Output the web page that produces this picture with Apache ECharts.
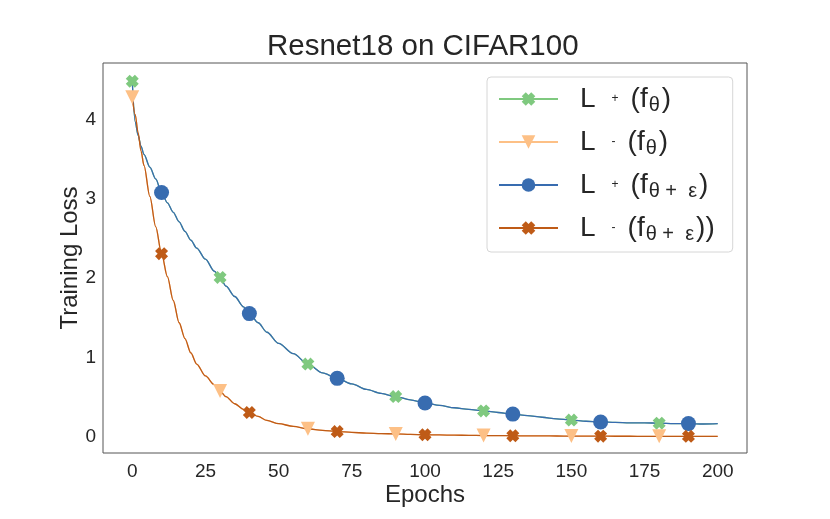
<!DOCTYPE html>
<html lang="en">

<head>
    <meta charset="UTF-8">
    <title>Resnet18 on CIFAR100</title>
    <script src="https://cdn.jsdelivr.net/npm/echarts@6/dist/echarts.min.js"></script>
    <style>
        html,
        body {
            margin: 0;
            padding: 0;
            background: #fff
        }

        #chart {
            width: 830px;
            height: 519px
        }
    </style>
</head>

<body>
    <div id="chart"></div>

    <script>
        // epochs (not every epoch, just enough to follow the shape)
        var epochs = [0, 1, 2, 3, 4, 6, 8, 10, 12, 14, 16, 18, 20, 22, 25, 28, 30, 32, 35, 38, 40, 43, 46, 50, 55,
            60, 65, 70, 75, 80, 85, 90, 95, 100, 105, 110, 115, 120, 125, 130, 135, 140, 145, 150, 155, 160, 165,
            170, 175, 180, 185, 190, 195, 200];

        // upper curve: L+ (f_theta) and L+ (f_theta+eps) lie on top of each other
        var lossPlus = [4.48, 3.97, 3.80, 3.66, 3.56, 3.40, 3.25, 3.08, 2.95, 2.83, 2.71, 2.59, 2.48, 2.38, 2.24,
            2.09, 2.01, 1.90, 1.77, 1.64, 1.555, 1.44, 1.32, 1.18, 1.05, 0.92, 0.81, 0.74, 0.67, 0.60, 0.55, 0.51,
            0.47, 0.43, 0.40, 0.37, 0.35, 0.33, 0.31, 0.29, 0.27, 0.25, 0.23, 0.215, 0.20, 0.19, 0.185, 0.18, 0.18,
            0.175, 0.17, 0.17, 0.165, 0.17];

        // lower curve: L- (f_theta) and L- (f_theta+eps)
        var lossMinus = [4.28, 4.06, 3.83, 3.60, 3.42, 3.03, 2.65, 2.31, 2.02, 1.72, 1.44, 1.24, 1.06, 0.92, 0.77,
            0.66, 0.58, 0.51, 0.42, 0.35, 0.31, 0.26, 0.21, 0.17, 0.135, 0.105, 0.085, 0.07, 0.06, 0.05, 0.045, 0.04,
            0.035, 0.03, 0.027, 0.025, 0.022, 0.02, 0.019, 0.017, 0.016, 0.015, 0.014, 0.013, 0.012, 0.012, 0.011,
            0.011, 0.01, 0.01, 0.01, 0.01, 0.01, 0.01];

        // where the markers sit
        var marksTheta = [0, 30, 60, 90, 120, 150, 180];
        var marksEps = [10, 40, 70, 100, 130, 160, 190];

        var xTicks = [0, 25, 50, 75, 100, 125, 150, 175, 200];
        var yTicks = [0, 1, 2, 3, 4];

        var seriesNames = ['L+(fθ)', 'L-(fθ)', 'L+(fθ+ε)', 'L-(fθ+ε)'];
        var legendLabels = {
            'L+(fθ)': '{L|L}{s|+}{p|(f}{sub|θ}{p|)}',
            'L-(fθ)': '{L|L}{s|-}{p|(f}{sub|θ}{p|)}',
            'L+(fθ+ε)': '{L|L}{s|+}{p|(f}{sub|θ +  ε}{p|)}',
            'L-(fθ+ε)': '{L|L}{s|-}{p|(f}{sub|θ +  ε}{p|))}'
        };

        var xMark = 'path://M0,3 L3,0 L5,2 L7,0 L10,3 L8,5 L10,7 L7,10 L5,8 L3,10 L0,7 L2,5 Z';
        var triDown = 'path://M0,0 L10,0 L5,9 Z';

        function make_data (vals, marks) {
            var out = [];
            for (var i = 0; i < epochs.length; i++) {
                var item = { value: [epochs[i], vals[i]] };
                if (marks.indexOf(epochs[i]) < 0) item.symbol = 'none';
                out.push(item);
            }
            return out;
        }

        function make_series (name, vals, marks, color, symbol, size) {
            return {
                name: name,
                type: 'line',
                data: make_data(vals, marks),
                smooth: 0.3,
                smoothMonotone: 'x',
                showSymbol: true,
                symbol: symbol,
                symbolSize: size,
                lineStyle: { color: color, width: 1.3 },
                itemStyle: { color: color },
                emphasis: { disabled: true },
                animation: false
            };
        }

        var font = '"Liberation Sans", Arial, sans-serif';
        var ink = '#262626';

        var myChart = echarts.init(document.getElementById('chart'));

        var option = {
            backgroundColor: '#fff',
            title: {
                text: 'Resnet18 on CIFAR100',
                left: 262,
                top: 27,
                textStyle: { fontFamily: font, fontSize: 29.5, fontWeight: 'normal', color: ink }
            },
            grid: {
                left: 103, right: 83, top: 63, bottom: 66,
                show: true,
                borderColor: '#555',
                borderWidth: 1
            },
            legend: {
                orient: 'vertical',
                left: 487,
                top: 77,
                padding: [8, 18, 8, 11],
                itemWidth: 59,
                itemHeight: 17,
                itemGap: 13,
                borderColor: '#d6d6d6',
                borderWidth: 1,
                borderRadius: 4,
                backgroundColor: '#fff',
                data: seriesNames,
                formatter: function (name) { return legendLabels[name]; },
                textStyle: {
                    color: ink,
                    fontFamily: font,
                    rich: {
                        L: { fontSize: 28, color: ink, fontFamily: font, padding: [0, 0, 0, 17], lineHeight: 32 },
                        s: { fontSize: 12, color: ink, fontFamily: font, padding: [0, 12, 0, 16] },
                        p: { fontSize: 28, color: ink, fontFamily: font, lineHeight: 32 },
                        sub: { fontSize: 20, color: ink, fontFamily: font, padding: [12, 2, 0, 1] }
                    }
                }
            },
            xAxis: {
                type: 'value',
                min: -10,
                max: 210,
                name: 'Epochs',
                nameLocation: 'middle',
                nameGap: 30,
                nameMoveOverlap: false,
                nameTextStyle: { fontFamily: font, fontSize: 24, color: ink },
                axisLine: { show: false },
                axisTick: { show: false },
                splitLine: { show: false },
                axisLabel: {
                    customValues: xTicks,
                    fontFamily: font, fontSize: 19, color: ink, margin: 9
                }
            },
            yAxis: {
                type: 'value',
                min: -0.2,
                max: 4.71,
                name: 'Training Loss',
                nameLocation: 'middle',
                nameGap: 21,
                nameMoveOverlap: false,
                nameTextStyle: { fontFamily: font, fontSize: 24, color: ink },
                axisLine: { show: false },
                axisTick: { show: false },
                splitLine: { show: false },
                axisLabel: {
                    customValues: yTicks,
                    fontFamily: font, fontSize: 19, color: ink, margin: 7
                }
            },
            series: [
                make_series(seriesNames[0], lossPlus, marksTheta, '#7fc97f', xMark, 13),
                make_series(seriesNames[1], lossMinus, marksTheta, '#fdc086', triDown, 14),
                make_series(seriesNames[2], lossPlus, marksEps, '#386cb0', 'circle', 15),
                make_series(seriesNames[3], lossMinus, marksEps, '#bf5b17', xMark, 13)
            ]
        };
        myChart.setOption(option);
    </script>

</body>

</html>
